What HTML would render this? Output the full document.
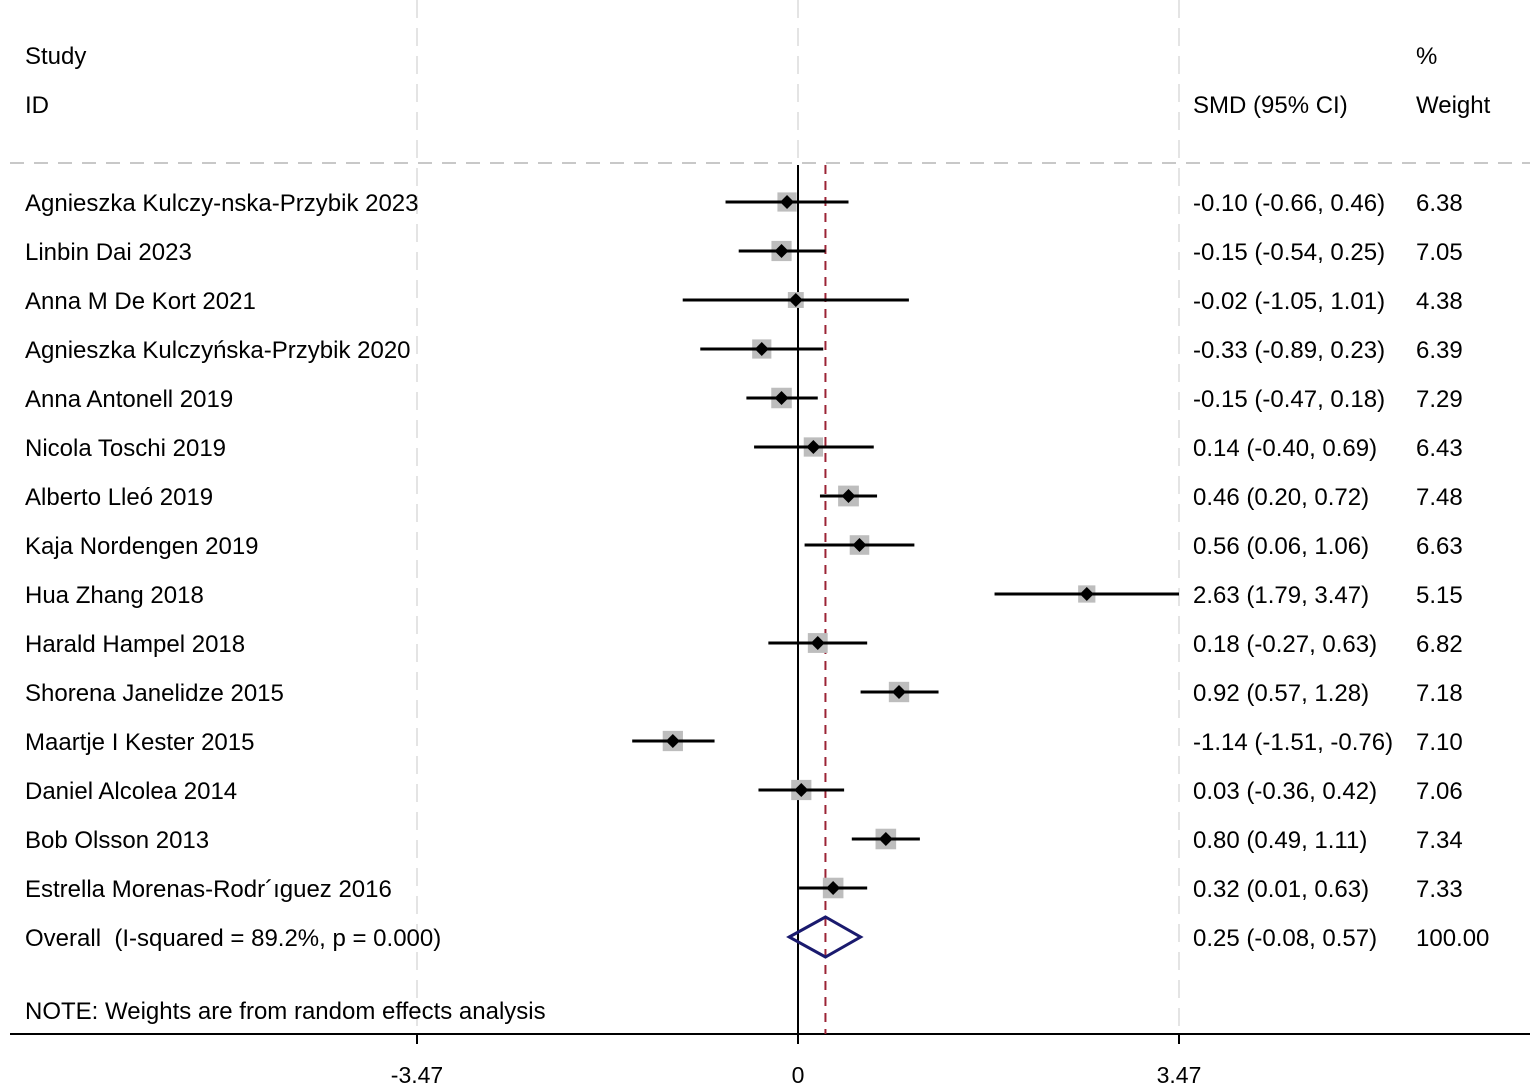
<!DOCTYPE html>
<html><head><meta charset="utf-8"><style>
html,body{margin:0;padding:0;background:#fff;}
svg{display:block;font-family:"Liberation Sans",Arial,sans-serif;}
text{white-space:pre;}
</style></head><body>
<svg id="chart" width="1535" height="1090" viewBox="0 0 1535 1090">
<g id="grid"></g>
<line x1="10" y1="163" x2="1530" y2="163" stroke="#c8c8c8" stroke-width="2" stroke-dasharray="14,10"/>
<text x="25" y="64" font-size="24">Study</text>
<text x="25" y="113" font-size="24">ID</text>
<text x="1193" y="113" font-size="24">SMD (95% CI)</text>
<text x="1416" y="64" font-size="24">%</text>
<text x="1416" y="113" font-size="24">Weight</text>
<g id="marks"></g>
<text x="25" y="1019" font-size="24">NOTE: Weights are from random effects analysis</text>
</svg>
<script>
const studies=["Agnieszka Kulczy-nska-Przybik 2023","Linbin Dai 2023","Anna M De Kort 2021","Agnieszka Kulczyńska-Przybik 2020","Anna Antonell 2019","Nicola Toschi 2019","Alberto Lleó 2019","Kaja Nordengen 2019","Hua Zhang 2018","Harald Hampel 2018","Shorena Janelidze 2015","Maartje I Kester 2015","Daniel Alcolea 2014","Bob Olsson 2013","Estrella Morenas-Rodr´ıguez 2016"];
const smd=[-0.10,-0.15,-0.02,-0.33,-0.15,0.14,0.46,0.56,2.63,0.18,0.92,-1.14,0.03,0.80,0.32];
const lower=[-0.66,-0.54,-1.05,-0.89,-0.47,-0.40,0.20,0.06,1.79,-0.27,0.57,-1.51,-0.36,0.49,0.01];
const upper=[0.46,0.25,1.01,0.23,0.18,0.69,0.72,1.06,3.47,0.63,1.28,-0.76,0.42,1.11,0.63];
const weights=[6.38,7.05,4.38,6.39,7.29,6.43,7.48,6.63,5.15,6.82,7.18,7.10,7.06,7.34,7.33];
const overall=[0.25,-0.08,0.57];
const overallWeight="100.00";
const overallLabel="Overall  (I-squared = 89.2%, p = 0.000)";
const ticks=[-3.47,0,3.47];
const tickLabels=["-3.47","0","3.47"];

const NS="http://www.w3.org/2000/svg";
const x=v=>798+v*(381/3.47);
const rowY=i=>202+i*49;
const fmt=v=>v.toFixed(2);
const marks=document.getElementById('marks');
const grid=document.getElementById('grid');
function mk(tag,attrs,parent){const e=document.createElementNS(NS,tag);for(const k in attrs)e.setAttribute(k,attrs[k]);(parent||marks).appendChild(e);return e;}

ticks.forEach((t,i)=>{
  const g=mk('line',{x1:x(t),x2:x(t),y1:0,y2:1034,stroke:'#e4e4e4','stroke-width':2,'stroke-dasharray':'18,10'},grid);
  
  
  const tk=mk('line',{x1:x(t),x2:x(t),y1:1034,y2:1044,stroke:'#000','stroke-width':2});
  
  
  const tl=mk('text',{x:x(t),y:1083,'font-size':23,'text-anchor':'middle'});
  tl.textContent=tickLabels[i];
  
  
});
const ax=mk('line',{x1:10,x2:1530,y1:1034,y2:1034,stroke:'#000','stroke-width':2});


const zl=mk('line',{x1:x(0),x2:x(0),y1:165,y2:1034,stroke:'#000','stroke-width':2});


const ol=mk('line',{x1:x(overall[0]),x2:x(overall[0]),y1:165,y2:1034,stroke:'#9b2335','stroke-width':2,'stroke-dasharray':'9,7'});



studies.forEach((s,i)=>{
  const y=rowY(i);
  const lab=mk('text',{x:25,y:y+9,'font-size':24});
  lab.textContent=s;
  
  
  const side=7.6*Math.sqrt(weights[i]);
  const sq=mk('rect',{x:x(smd[i])-side/2,y:y-side/2,width:side,height:side,fill:'#bdbdbd'});
  
  
  const ci=mk('line',{x1:x(lower[i]),x2:x(upper[i]),y1:y,y2:y,stroke:'#000','stroke-width':3});
  
  
  const cx=x(smd[i]);
  const d=mk('polygon',{points:`${cx-7},${y} ${cx},${y-7} ${cx+7},${y} ${cx},${y+7}`,fill:'#000'});
  
  
  const ciT=mk('text',{x:1193,y:y+9,'font-size':24});
  ciT.textContent=`${fmt(smd[i])} (${fmt(lower[i])}, ${fmt(upper[i])})`;
  
  
  const wT=mk('text',{x:1416,y:y+9,'font-size':24});
  wT.textContent=fmt(weights[i]);
  
  
});
const oy=rowY(studies.length);
const olab=mk('text',{x:25,y:oy+9,'font-size':24});
olab.textContent=overallLabel;


const od=mk('polygon',{points:`${x(overall[1])},${oy} ${x(overall[0])},${oy-20} ${x(overall[2])},${oy} ${x(overall[0])},${oy+20}`,fill:'none',stroke:'#1a1a6e','stroke-width':3});


const oT=mk('text',{x:1193,y:oy+9,'font-size':24});
oT.textContent=`${fmt(overall[0])} (${fmt(overall[1])}, ${fmt(overall[2])})`;


const oW=mk('text',{x:1416,y:oy+9,'font-size':24});
oW.textContent=overallWeight;


</script>
</body></html>
